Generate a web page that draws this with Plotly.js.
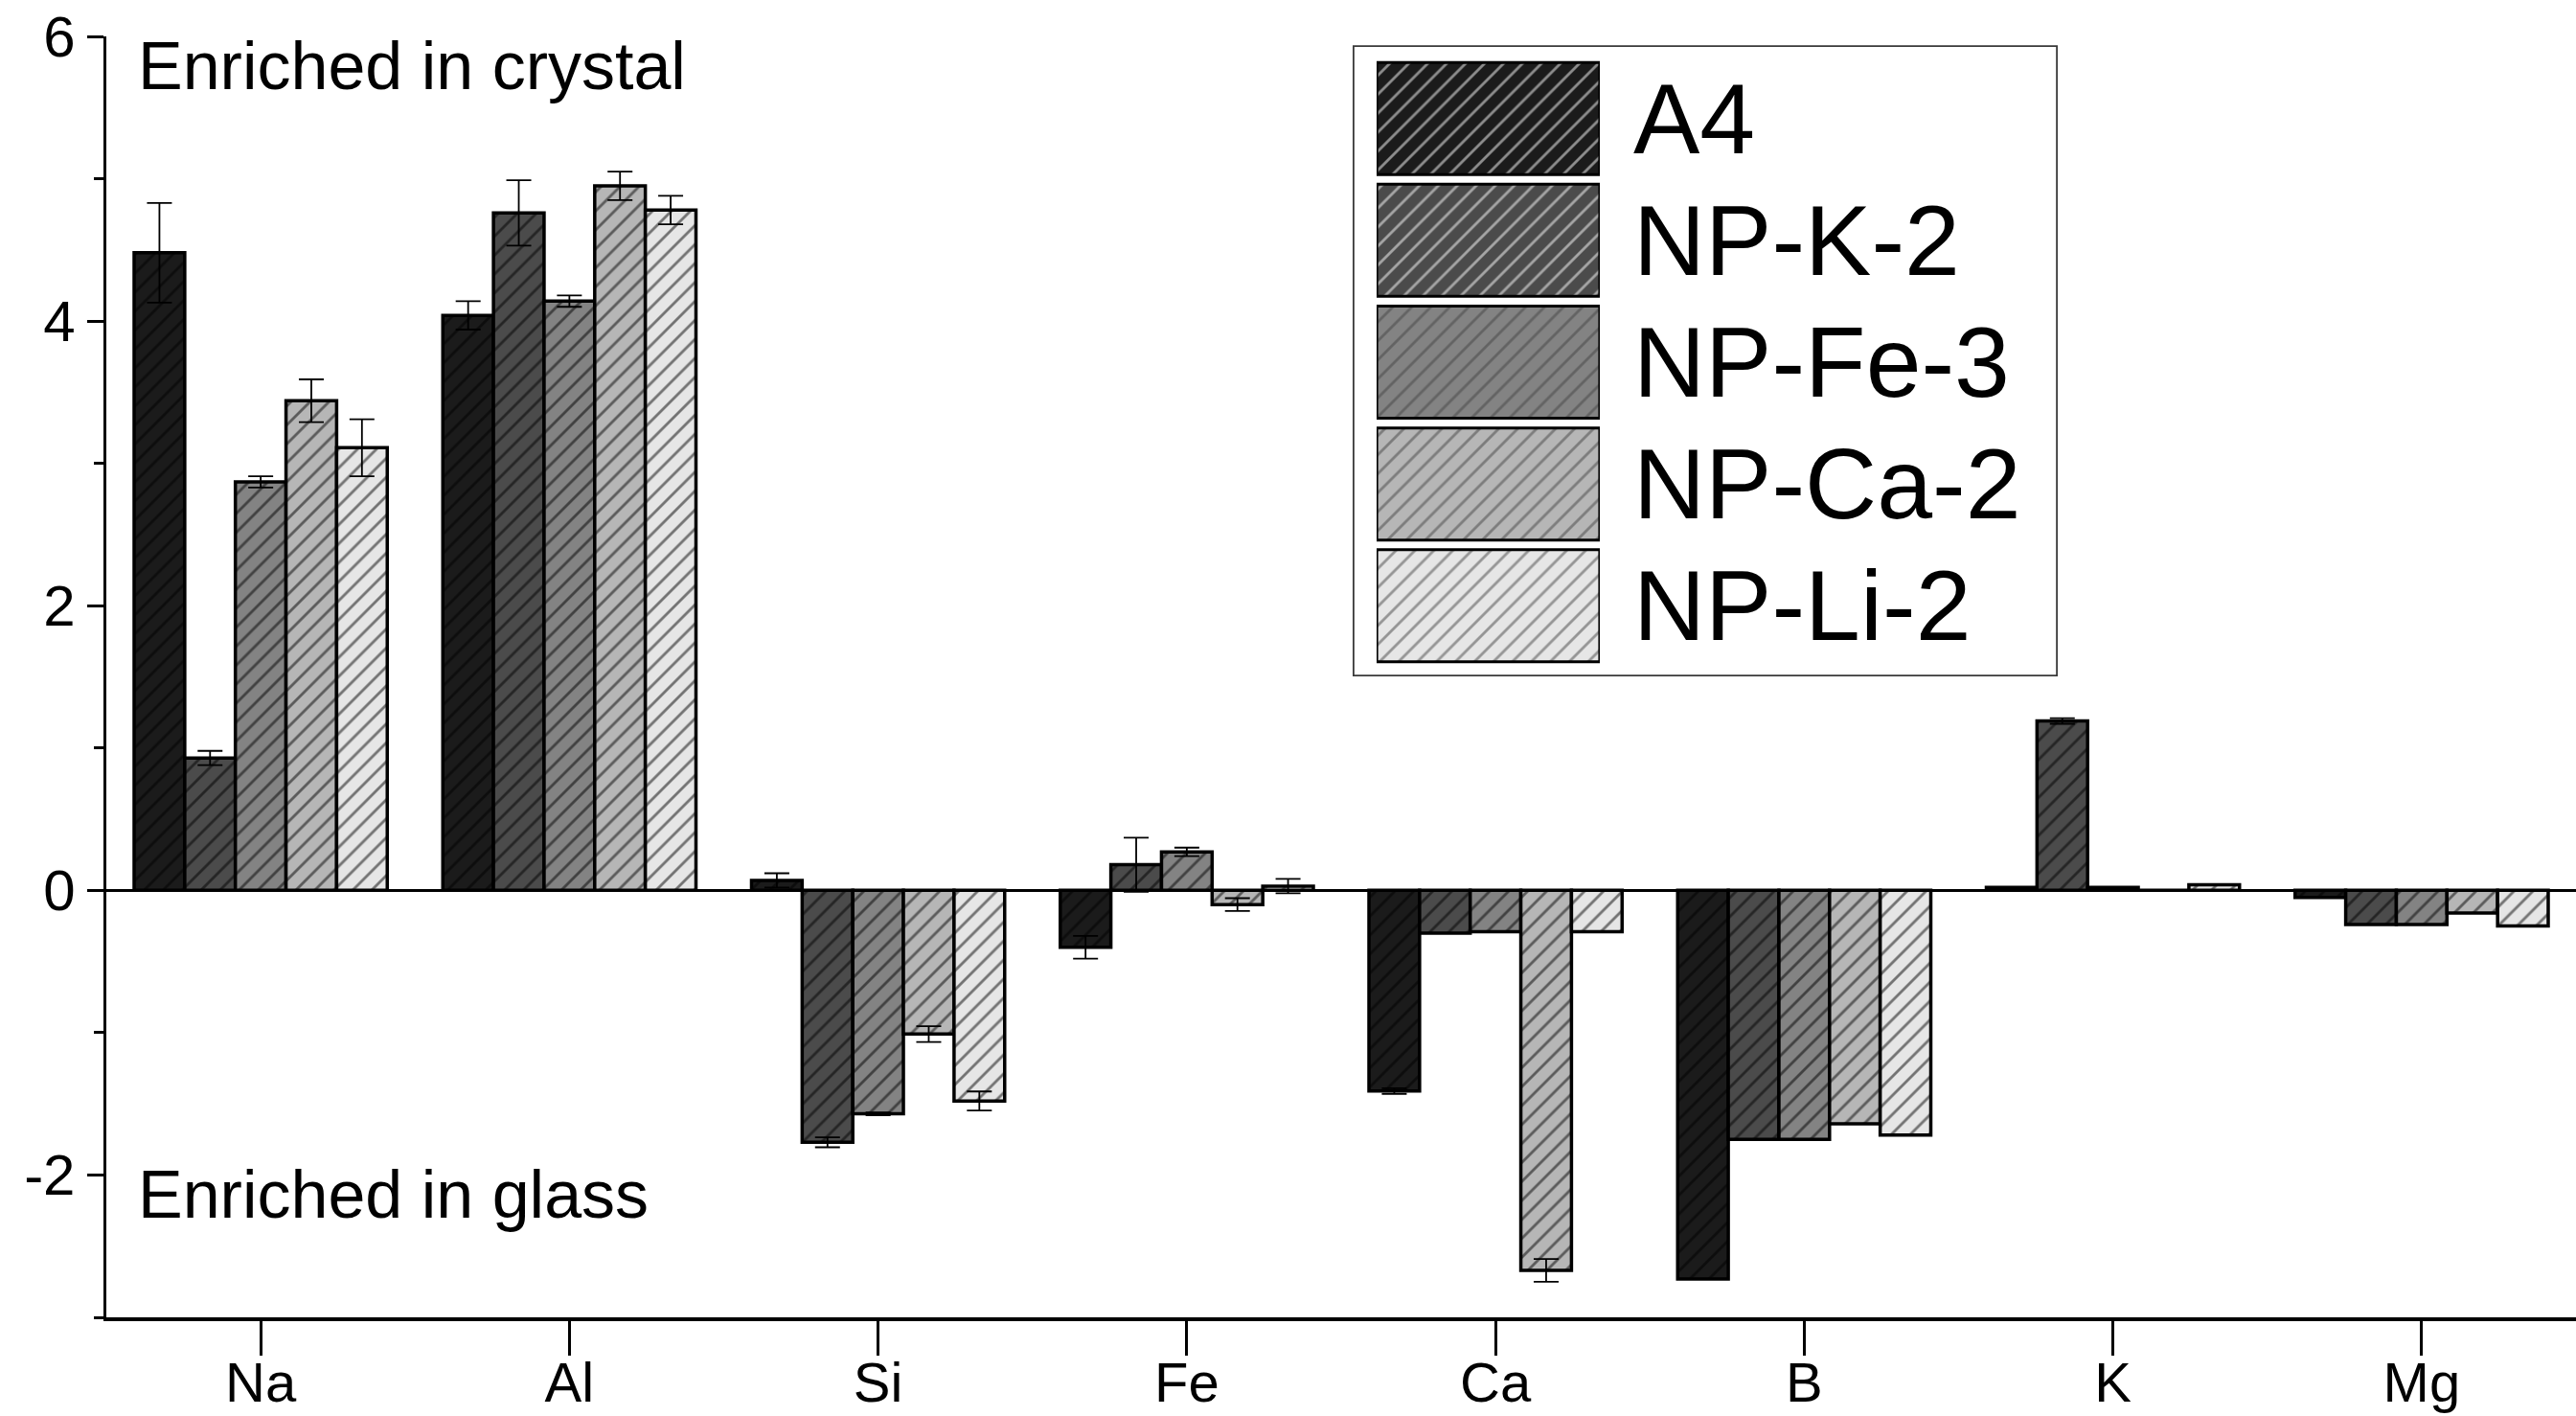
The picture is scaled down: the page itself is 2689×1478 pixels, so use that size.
<!DOCTYPE html>
<html>
<head>
<meta charset="utf-8">
<script src="https://cdn.plot.ly/plotly-3.0.1.min.js"></script>
<style>
  html, body { margin: 0; padding: 0; background: #ffffff; }
  #chart { width: 2689px; height: 1478px; }
</style>
</head>
<body>
<div id="chart"></div>
<script>
// ---- data ----
const elements = ['Na', 'Al', 'Si', 'Fe', 'Ca', 'B', 'K', 'Mg'];
const seriesNames = ['A4', 'NP-K-2', 'NP-Fe-3', 'NP-Ca-2', 'NP-Li-2'];

const A4        = [4.48, 4.04, 0.07, -0.40, -1.41, -2.73, 0.02, -0.05];
const A4_err    = [0.35, 0.10, 0.05, 0.08, 0.02, 0, 0, 0];
const NPK2      = [0.93, 4.76, -1.77, 0.18, -0.30, -1.75, 1.19, -0.24];
const NPK2_err  = [0.05, 0.23, 0.035, 0.19, 0, 0, 0.02, 0];
const NPFe3     = [2.87, 4.14, -1.57, 0.27, -0.29, -1.75, 0.02, -0.24];
const NPFe3_err = [0.04, 0.04, 0.01, 0.03, 0, 0, 0, 0];
const NPCa2     = [3.44, 4.95, -1.01, -0.10, -2.67, -1.64, 0, -0.16];
const NPCa2_err = [0.15, 0.10, 0.055, 0.045, 0.08, 0, 0, 0];
const NPLi2     = [3.11, 4.78, -1.48, 0.03, -0.29, -1.72, 0.04, -0.25];
const NPLi2_err = [0.20, 0.10, 0.067, 0.05, 0, 0, 0, 0];

const yTickVals = [-2, 0, 2, 4, 6];
const legendSwatchLength = [1, 1, 1, 1, 1];

// ---- styles ----
const fills = ['#1b1b1b', '#4b4b4b', '#838383', '#b6b6b6', '#e6e6e6'];
const FONT = 'Liberation Sans, Arial, Helvetica, sans-serif';

const values = [A4, NPK2, NPFe3, NPCa2, NPLi2];
const errors = [A4_err, NPK2_err, NPFe3_err, NPCa2_err, NPLi2_err];

function patternFor(color) {
  return { shape: '/', fgcolor: '#000000', bgcolor: color, size: 14, solidity: 0.2, fillmode: 'overlay' };
}

const traces = seriesNames.map((name, i) => ({
  type: 'bar',
  name: name,
  x: elements,
  y: values[i],
  marker: {
    color: fills[i],
    line: { color: '#000000', width: 3.5 },
    pattern: patternFor(fills[i])
  },
  error_y: {
    type: 'data',
    array: errors[i],
    visible: true,
    color: '#000000',
    thickness: 1.8,
    width: 13
  },
  showlegend: false,
  hoverinfo: 'skip'
}));

// custom big legend swatches on a secondary set of axes
traces.push({
  type: 'bar',
  orientation: 'h',
  x: legendSwatchLength,
  y: seriesNames,
  xaxis: 'x2',
  yaxis: 'y2',
  width: 0.92,
  marker: {
    color: fills,
    line: { color: '#000000', width: 3 },
    pattern: { shape: '/', fgcolor: '#000000', bgcolor: fills, size: 14, solidity: 0.2, fillmode: 'overlay' }
  },
  showlegend: false,
  hoverinfo: 'skip'
});

const annotations = [
  { text: 'Enriched in crystal', xref: 'paper', yref: 'y', x: 0.012, y: 5.79,
    xanchor: 'left', yanchor: 'middle', showarrow: false,
    font: { family: FONT, size: 70, color: '#000000' } },
  { text: 'Enriched in glass', xref: 'paper', yref: 'y', x: 0.012, y: -2.14,
    xanchor: 'left', yanchor: 'middle', showarrow: false,
    font: { family: FONT, size: 70, color: '#000000' } }
];
seriesNames.forEach(name => {
  annotations.push({
    text: name, xref: 'paper', yref: 'y2', x: 0.6175, y: name,
    xanchor: 'left', yanchor: 'middle', showarrow: false,
    font: { family: FONT, size: 104, color: '#000000' }
  });
});

const layout = {
  width: 2689,
  height: 1478,
  margin: { l: 111, r: 0, t: 38, b: 103 },
  paper_bgcolor: '#ffffff',
  plot_bgcolor: '#ffffff',
  font: { family: FONT, color: '#000000' },
  barmode: 'group',
  bargap: 0.18,
  bargroupgap: 0,
  showlegend: false,
  xaxis: {
    type: 'category',
    categoryorder: 'array',
    categoryarray: elements,
    range: [-0.5, 7.5],
    showline: true, linecolor: '#000000', linewidth: 3.5,
    ticks: 'outside', ticklen: 36, tickwidth: 3, tickcolor: '#000000',
    ticklabelstandoff: -21,
    showgrid: false, zeroline: false,
    tickfont: { family: FONT, size: 58, color: '#000000' }
  },
  yaxis: {
    range: [-3, 6],
    tickmode: 'array', tickvals: yTickVals, ticktext: yTickVals.map(String),
    showline: true, linecolor: '#000000', linewidth: 3.5,
    ticks: 'outside', ticklen: 17, tickwidth: 3, tickcolor: '#000000',
    ticklabelstandoff: 0,
    minor: { dtick: 1, tick0: 0, ticks: 'outside', ticklen: 10, tickwidth: 3, tickcolor: '#000000', showgrid: false },
    showgrid: false,
    zeroline: true, zerolinecolor: '#000000', zerolinewidth: 3.5,
    tickfont: { family: FONT, size: 60, color: '#000000' }
  },
  xaxis2: {
    domain: [0.5144, 0.6047], range: [0, 1], anchor: 'y2',
    visible: false, fixedrange: true
  },
  yaxis2: {
    domain: [0.5079, 0.9835], type: 'category',
    categoryorder: 'array', categoryarray: seriesNames,
    autorange: 'reversed', anchor: 'x2',
    visible: false, fixedrange: true
  },
  shapes: [
    { type: 'rect', xref: 'paper', yref: 'paper', x0: 0.505, x1: 0.7898, y0: 0.5011, y1: 0.9925,
      line: { color: '#3a3a3a', width: 1.8 }, fillcolor: 'rgba(0,0,0,0)', layer: 'below' }
  ],
  annotations: annotations
};

Plotly.newPlot('chart', traces, layout, { displayModeBar: false, staticPlot: true });
</script>
</body>
</html>
